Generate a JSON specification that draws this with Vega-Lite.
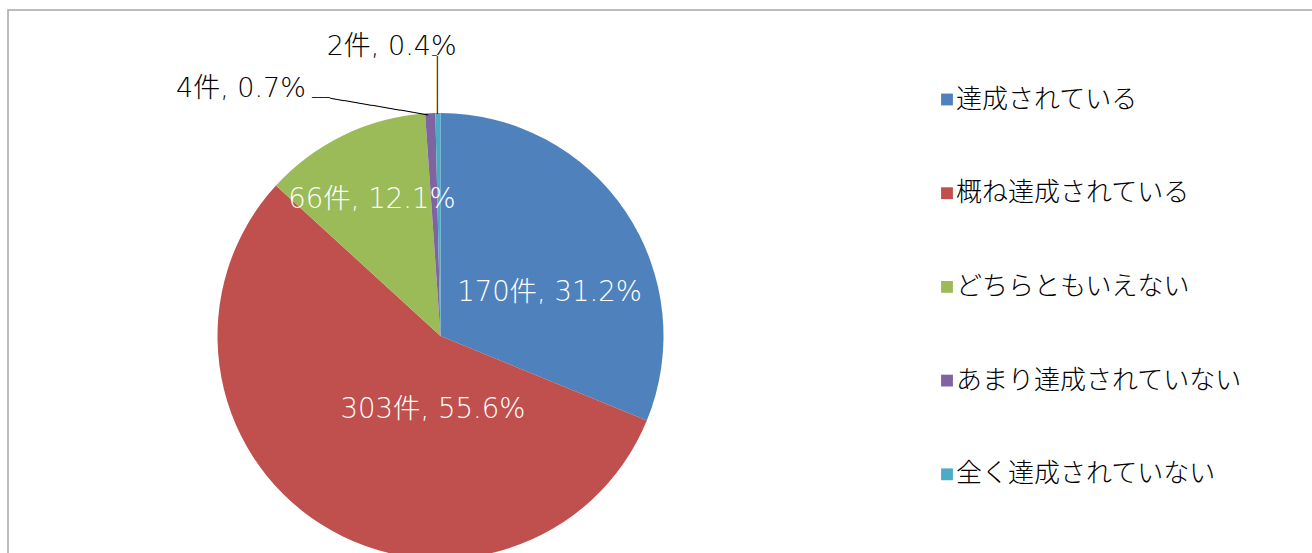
{
  "$schema": "https://vega.github.io/schema/vega-lite/v6.json",
  "autosize": "none",
  "width": 1308,
  "height": 547,
  "padding": {"left": 8, "top": 10, "right": -4, "bottom": -4},
  "background": "white",
  "config": {"view": {"stroke": "#a6a6a6", "strokeWidth": 1.5}},
  "data": {"values": [
    {"cat": "達成されている", "n": 170, "order": 1, "label": "170件, 31.2%"},
    {"cat": "概ね達成されている", "n": 303, "order": 2, "label": "303件, 55.6%"},
    {"cat": "どちらともいえない", "n": 66, "order": 3, "label": "66件, 12.1%"},
    {"cat": "あまり達成されていない", "n": 4, "order": 4, "label": "4件, 0.7%"},
    {"cat": "全く達成されていない", "n": 2, "order": 5, "label": "2件, 0.4%"}
  ]},
  "encoding": {
    "theta": {"field": "n", "type": "quantitative", "stack": true},
    "order": {"field": "order", "type": "quantitative"},
    "x": {"value": 432.5},
    "y": {"value": 326}
  },
  "layer": [
    {
      "mark": {"type": "arc", "outerRadius": 223},
      "encoding": {
        "color": {
          "field": "cat", "type": "nominal",
          "scale": {
            "domain": ["達成されている", "概ね達成されている", "どちらともいえない", "あまり達成されていない", "全く達成されていない"],
            "range": ["#4F81BD", "#C0504D", "#9BBB59", "#8064A2", "#4BACC6"]
          },
          "legend": {
            "title": null, "orient": "none", "legendX": 926, "legendY": 76.5,
            "padding": 0, "symbolType": "square", "symbolSize": 140, "symbolStrokeWidth": 0,
            "labelFont": "Noto Sans CJK JP", "labelFontSize": 26, "labelFontWeight": 300, "labelColor": "#000",
            "labelOffset": -4, "labelLimit": 0, "rowPadding": 67.7
          }
        }
      }
    },
    {
      "mark": {"type": "text", "radius": 120, "dx": 9.4, "dy": 23.4, "color": "white", "font": "DejaVu Sans, Noto Sans CJK JP", "fontWeight": 300, "fontSize": 27.5, "align": "center", "baseline": "middle"},
      "encoding": {"text": {"condition": {"test": "datum.order === 1", "field": "label"}, "value": ""}}
    },
    {
      "mark": {"type": "text", "radius": 120, "dx": 56.7, "dy": -26.9, "color": "white", "font": "DejaVu Sans, Noto Sans CJK JP", "fontWeight": 300, "fontSize": 27.5, "align": "center", "baseline": "middle"},
      "encoding": {"text": {"condition": {"test": "datum.order === 2", "field": "label"}, "value": ""}}
    },
    {
      "mark": {"type": "text", "radius": 120, "dx": -16.4, "dy": -28.4, "color": "white", "font": "DejaVu Sans, Noto Sans CJK JP", "fontWeight": 300, "fontSize": 27.5, "align": "center", "baseline": "middle"},
      "encoding": {"text": {"condition": {"test": "datum.order === 3", "field": "label"}, "value": ""}}
    },
    {
      "mark": {"type": "text", "radius": 250, "dx": -188, "dy": 3.2, "color": "black", "font": "DejaVu Sans, Noto Sans CJK JP", "fontWeight": 300, "fontSize": 27, "align": "center", "baseline": "middle"},
      "encoding": {"text": {"condition": {"test": "datum.order === 4", "field": "label"}, "value": ""}}
    },
    {
      "mark": {"type": "text", "radius": 290, "dx": -45.5, "dy": 0.5, "color": "black", "font": "DejaVu Sans, Noto Sans CJK JP", "fontWeight": 300, "fontSize": 27, "align": "center", "baseline": "middle"},
      "encoding": {"text": {"condition": {"test": "datum.order === 5", "field": "label"}, "value": ""}}
    },
    {
      "mark": {"type": "text", "radius": 235, "dx": -16, "dy": 1.05, "angle": 90, "color": "black", "font": "DejaVu Sans Mono", "fontSize": 12, "align": "center", "baseline": "middle"},
      "encoding": {"text": {"condition": {"test": "datum.order === 5", "value": "────────"}, "value": ""}}
    },
    {
      "mark": {"type": "text", "radius": 235, "dx": -3.3, "dy": -44.6, "color": "black", "font": "DejaVu Sans Mono", "fontSize": 8, "align": "center", "baseline": "middle"},
      "encoding": {"text": {"condition": {"test": "datum.order === 5", "value": "─"}, "value": ""}}
    },
    {
      "mark": {"type": "text", "radius": 235, "dx": -49.0, "dy": 13.7, "angle": 9.6, "color": "black", "font": "DejaVu Sans Mono", "fontSize": 11.8, "align": "center", "baseline": "middle"},
      "encoding": {"text": {"condition": {"test": "datum.order === 4", "value": "──────────────"}, "value": ""}}
    },
    {
      "mark": {"type": "text", "radius": 235, "dx": -108.7, "dy": -3.0, "color": "black", "font": "DejaVu Sans Mono", "fontSize": 10, "align": "center", "baseline": "middle"},
      "encoding": {"text": {"condition": {"test": "datum.order === 4", "value": "───"}, "value": ""}}
    }
  ]
}
